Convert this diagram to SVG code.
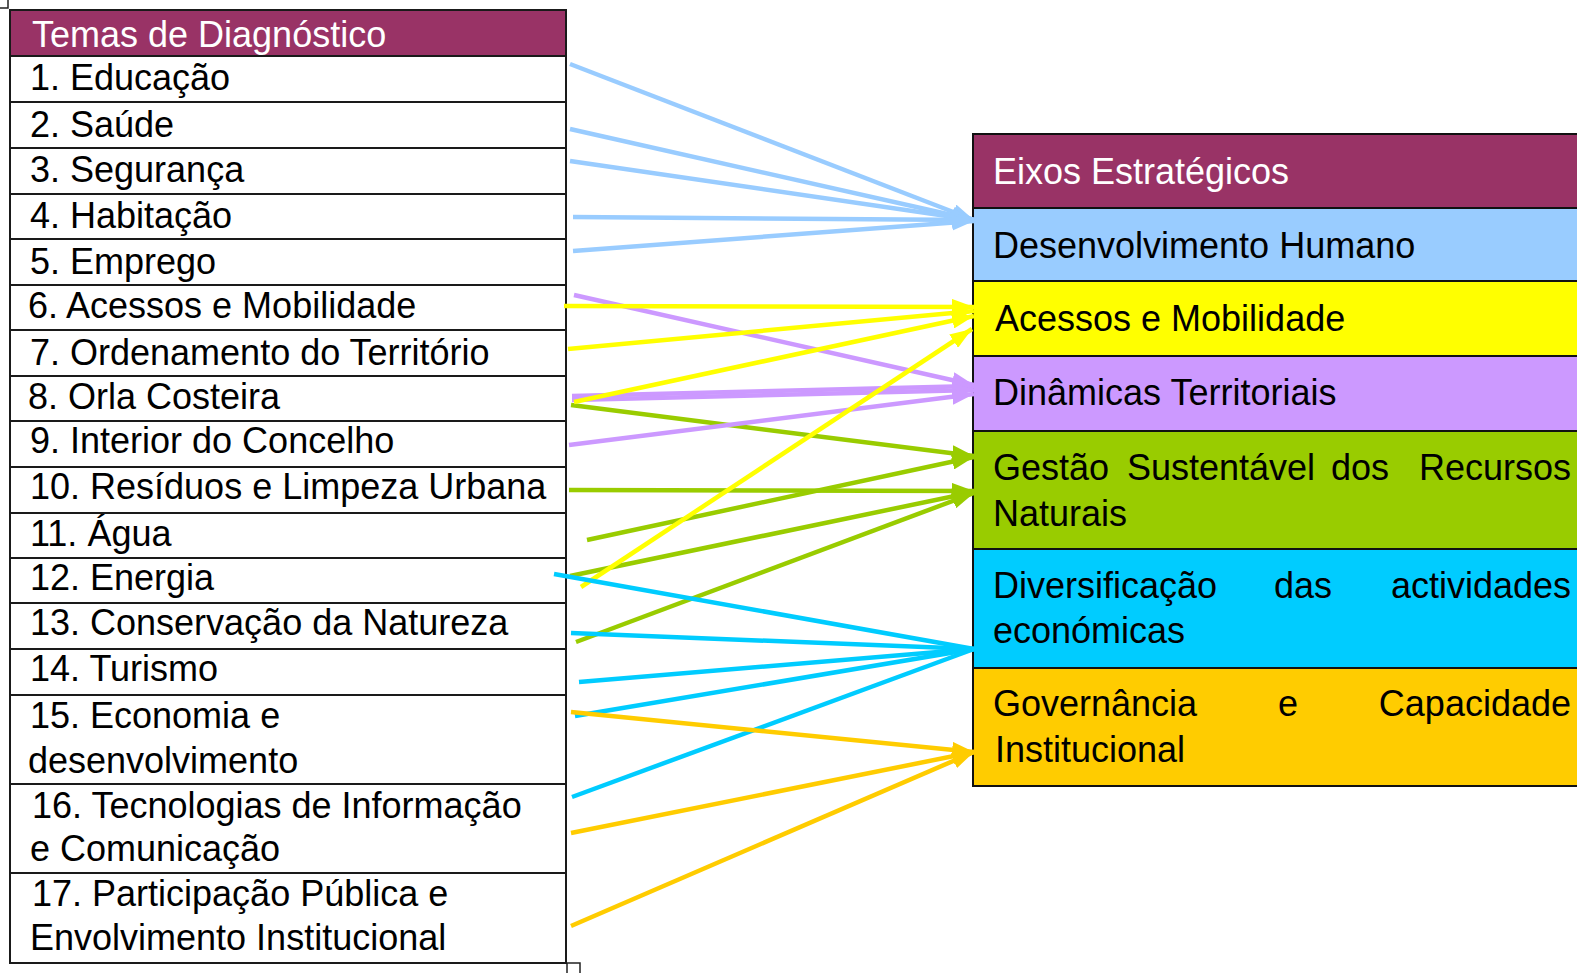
<svg xmlns="http://www.w3.org/2000/svg" width="1577" height="973" viewBox="0 0 1577 973">
<style>
  text { font-family: "Liberation Sans", Arial, sans-serif; font-size: 36px; fill: #000; }
  .hdr { fill: #fff; }
  .cell { fill: #fff; stroke: #1a1a1a; stroke-width: 2; }
  .box { stroke: #111; stroke-width: 2; }
  .c { fill: none; stroke-width: 4.5; stroke-linecap: butt; }
  .blue { stroke: #99CCFF; }
  .yellow { stroke: #FFFF00; }
  .purple { stroke: #CC99FF; }
  .green { stroke: #99CC00; }
  .cyan { stroke: #00CCFF; }
  .orange { stroke: #FFCC00; }
</style>
<defs>
  <marker id="mBlue" markerUnits="userSpaceOnUse" markerWidth="22" markerHeight="16" refX="22" refY="8" orient="auto"><path d="M0,0 L22,8 L0,16 z" fill="#99CCFF"/></marker>
  <marker id="mYellow" markerUnits="userSpaceOnUse" markerWidth="22" markerHeight="16" refX="22" refY="8" orient="auto"><path d="M0,0 L22,8 L0,16 z" fill="#FFFF00"/></marker>
  <marker id="mPurple" markerUnits="userSpaceOnUse" markerWidth="22" markerHeight="16" refX="22" refY="8" orient="auto"><path d="M0,0 L22,8 L0,16 z" fill="#CC99FF"/></marker>
  <marker id="mGreen" markerUnits="userSpaceOnUse" markerWidth="22" markerHeight="16" refX="22" refY="8" orient="auto"><path d="M0,0 L22,8 L0,16 z" fill="#99CC00"/></marker>
  <marker id="mOrange" markerUnits="userSpaceOnUse" markerWidth="22" markerHeight="16" refX="22" refY="8" orient="auto"><path d="M0,0 L22,8 L0,16 z" fill="#FFCC00"/></marker>
</defs>
<rect width="1577" height="973" fill="#fff"/>
<path d="M0,8 H8 V0" fill="none" stroke="#222" stroke-width="1.5"/>
<rect x="567" y="963" width="13" height="16" fill="none" stroke="#222" stroke-width="1.5"/>

<g id="temas">
  <g id="temas-header"><rect x="10" y="10" width="556" height="46" fill="#993366" stroke="#1a1a1a" stroke-width="2"/><text class="hdr" x="32" y="47">Temas de Diagnóstico</text></g>
  <g id="t1"><rect class="cell" x="10" y="56" width="556" height="46"/><text x="30" y="90">1. Educação</text></g>
  <g id="t2"><rect class="cell" x="10" y="102" width="556" height="46"/><text x="30" y="137">2. Saúde</text></g>
  <g id="t3"><rect class="cell" x="10" y="148" width="556" height="46"/><text x="30" y="182">3. Segurança</text></g>
  <g id="t4"><rect class="cell" x="10" y="194" width="556" height="45"/><text x="30" y="228">4. Habitação</text></g>
  <g id="t5"><rect class="cell" x="10" y="239" width="556" height="46"/><text x="30" y="274">5. Emprego</text></g>
  <g id="t6"><rect class="cell" x="10" y="285" width="556" height="45"/><text x="28" y="318">6. Acessos e Mobilidade</text></g>
  <g id="t7"><rect class="cell" x="10" y="330" width="556" height="46"/><text x="30" y="365">7. Ordenamento do Território</text></g>
  <g id="t8"><rect class="cell" x="10" y="376" width="556" height="45"/><text x="28" y="409">8. Orla Costeira</text></g>
  <g id="t9"><rect class="cell" x="10" y="421" width="556" height="46"/><text x="30" y="453">9. Interior do Concelho</text></g>
  <g id="t10"><rect class="cell" x="10" y="467" width="556" height="46"/><text x="30" y="499">10. Resíduos e Limpeza Urbana</text></g>
  <g id="t11"><rect class="cell" x="10" y="513" width="556" height="45"/><text x="30" y="546">11. Água</text></g>
  <g id="t12"><rect class="cell" x="10" y="558" width="556" height="45"/><text x="30" y="590">12. Energia</text></g>
  <g id="t13"><rect class="cell" x="10" y="603" width="556" height="46"/><text x="30" y="635">13. Conservação da Natureza</text></g>
  <g id="t14"><rect class="cell" x="10" y="649" width="556" height="46"/><text x="30" y="681">14. Turismo</text></g>
  <g id="t15"><rect class="cell" x="10" y="695" width="556" height="89"/><text x="30" y="728">15. Economia e</text><text x="28" y="773">desenvolvimento</text></g>
  <g id="t16"><rect class="cell" x="10" y="784" width="556" height="89"/><text x="32" y="818">16. Tecnologias de Informação</text><text x="30" y="861">e Comunicação</text></g>
  <g id="t17"><rect class="cell" x="10" y="873" width="556" height="90"/><text x="32" y="906">17. Participação Pública e</text><text x="30" y="950">Envolvimento Institucional</text></g>
</g>

<g id="eixos">
  <g id="eixos-header"><rect class="box" x="973" y="134" width="612" height="74" fill="#993366"/><text class="hdr" x="993" y="184">Eixos Estratégicos</text></g>
  <g id="e-dh"><rect class="box" x="973" y="208" width="612" height="73" fill="#99CCFF"/><text x="993" y="258">Desenvolvimento Humano</text></g>
  <g id="e-am"><rect class="box" x="973" y="281" width="612" height="75" fill="#FFFF00"/><text x="995" y="331">Acessos e Mobilidade</text></g>
  <g id="e-dt"><rect class="box" x="973" y="356" width="612" height="75" fill="#CC99FF"/><text x="993" y="405">Dinâmicas Territoriais</text></g>
  <g id="e-gs"><rect class="box" x="973" y="431" width="612" height="118" fill="#99CC00"/><text y="480"><tspan x="993">Gestão</tspan><tspan x="1127">Sustentável</tspan><tspan x="1360" text-anchor="middle">dos</tspan><tspan x="1571" text-anchor="end">Recursos</tspan></text><text x="993" y="526">Naturais</text></g>
  <g id="e-da"><rect class="box" x="973" y="549" width="612" height="119" fill="#00CCFF"/><text y="598"><tspan x="993">Diversificação</tspan><tspan x="1303" text-anchor="middle">das</tspan><tspan x="1571" text-anchor="end">actividades</tspan></text><text x="993" y="643">económicas</text></g>
  <g id="e-gc"><rect class="box" x="973" y="668" width="612" height="118" fill="#FFCC00"/><text y="716"><tspan x="993">Governância</tspan><tspan x="1288" text-anchor="middle">e</tspan><tspan x="1571" text-anchor="end">Capacidade</tspan></text><text x="995" y="762">Institucional</text></g>
</g>

<g id="connectors">
  <line class="c blue" x1="570" y1="64" x2="974" y2="220" marker-end="url(#mBlue)"/>
  <line class="c blue" x1="570" y1="129" x2="974" y2="220" marker-end="url(#mBlue)"/>
  <line class="c blue" x1="570" y1="161" x2="974" y2="220" marker-end="url(#mBlue)"/>
  <line class="c blue" x1="573" y1="217" x2="974" y2="220" marker-end="url(#mBlue)"/>
  <line class="c blue" x1="573" y1="251" x2="974" y2="221" marker-end="url(#mBlue)"/>

  <line class="c green" x1="571" y1="405" x2="974" y2="456" marker-end="url(#mGreen)"/>
  <line class="c green" x1="569" y1="490" x2="974" y2="491" marker-end="url(#mGreen)"/>
  <line class="c green" x1="587" y1="540" x2="974" y2="457" marker-end="url(#mGreen)"/>
  <line class="c green" x1="570" y1="576" x2="974" y2="492" marker-end="url(#mGreen)"/>
  <line class="c green" x1="576" y1="642" x2="974" y2="493" marker-end="url(#mGreen)"/>

  <line class="c purple" x1="574" y1="295" x2="974" y2="385" marker-end="url(#mPurple)"/>
  <line class="c purple" x1="572" y1="396" x2="974" y2="386" marker-end="url(#mPurple)"/>
  <line class="c purple" x1="572" y1="400" x2="974" y2="390" marker-end="url(#mPurple)"/>
  <line class="c purple" x1="569" y1="445" x2="974" y2="394" marker-end="url(#mPurple)"/>

  <line class="c yellow" x1="564" y1="306" x2="974" y2="307" marker-end="url(#mYellow)"/>
  <line class="c yellow" x1="568" y1="349" x2="974" y2="311" marker-end="url(#mYellow)"/>
  <line class="c yellow" x1="574" y1="402" x2="974" y2="316" marker-end="url(#mYellow)"/>
  <line class="c yellow" x1="581" y1="587" x2="972" y2="329" marker-end="url(#mYellow)"/>

  <line class="c cyan" x1="554" y1="574" x2="974" y2="649"/>
  <line class="c cyan" x1="571" y1="633" x2="974" y2="649"/>
  <line class="c cyan" x1="579" y1="682" x2="974" y2="649"/>
  <line class="c cyan" x1="575" y1="716" x2="974" y2="649"/>
  <line class="c cyan" x1="572" y1="797" x2="974" y2="649"/>

  <line class="c orange" x1="571" y1="712" x2="974" y2="752" marker-end="url(#mOrange)"/>
  <line class="c orange" x1="571" y1="833" x2="974" y2="752" marker-end="url(#mOrange)"/>
  <line class="c orange" x1="571" y1="926" x2="974" y2="752" marker-end="url(#mOrange)"/>
</g>
</svg>
